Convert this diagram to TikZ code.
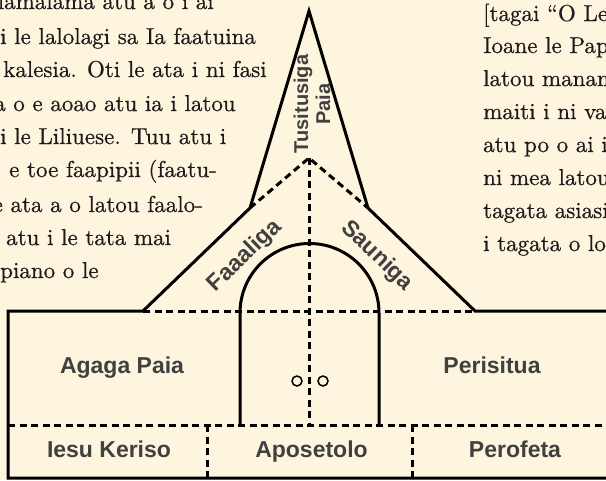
\documentclass[tikz,border=0pt]{standalone}
\usepackage{fontspec}
\setsansfont{Liberation Sans}
\newfontfamily\bodyfont{lmroman10-regular.otf}[FakeBold=0.6]
\usepackage{tikz}
\usetikzlibrary{positioning}
\definecolor{paper}{RGB}{253,245,221}
\definecolor{ink}{RGB}{30,26,27}
\definecolor{labelgray}{RGB}{64,64,64}
\tikzset{
    wall/.style={draw=black, line width=3pt, line join=miter},
    divider/.style={draw=black, line width=3pt, dash pattern=on 7pt off 4.5pt},
    room/.style={font=\sffamily\bfseries\fontsize{23}{25}\selectfont, text=labelgray, inner sep=0pt},
    body/.style={font=\bodyfont\fontsize{23}{33}\selectfont, text=ink, anchor=base west, inner sep=0pt},
    knob/.style={circle, draw, line width=1.5pt, minimum size=10pt, inner sep=0pt}
}

\begin{document}
\begin{tikzpicture}[x=1pt, y=-1pt]
    \useasboundingbox (0,0) rectangle (606,480);
    \fill[paper] (0,0) rectangle (606,480);
    \clip (0,0) rectangle (606,480);

    % text beside the picture
    \node[body] (l1) at (-2.4,9) {lamalama atu a o i ai};
    \node[body] (l2) at (0,44) {i le lalolagi sa Ia faatuina};
    \node[body] (l3) at (3,77) {kalesia. Oti le ata i ni fasi};
    \node[body] (l4) at (-6,111) {a o e aoao atu ia i latou};
    \node[body] (l5) at (0,144) {i le Liliuese. Tuu atu i};
    \node[body] (l6) at (9,177) {e toe faapipii (faatu-};
    \node[body] (l7) at (-7.5,212) {e ata a o latou faalo-};
    \node[body] (l8) at (6,245) {atu i le tata mai};
    \node[body] (l9) at (0,278) {piano o le};

    \node[body] (r1) at (483,21) {[tagai “O Le};
    \node[body] (r2) at (483,53) {Ioane le Pap};
    \node[body] (r3) at (483,86) {latou manam};
    \node[body] (r4) at (483,119) {maiti i ni va};
    \node[body] (r5) at (483,152) {atu po o ai i};
    \node[body] (r6) at (483,185) {ni mea latou};
    \node[body] (r7) at (483,218) {tagata asiasi};
    \node[body] (r8) at (483,251) {i tagata o lo};

    % corners of the building
    \coordinate (eaveL) at (143,311);
    \coordinate (eaveR) at (475,311);
    \coordinate (spireL) at (250,208);
    \coordinate (spireR) at (368,208);
    \coordinate (apex) at (309,11);
    \coordinate (cross) at (309,158);

    % walls
    \draw[wall] (612,311) -- (eaveR) -- (spireR) -- (apex) -- (spireL) -- (eaveL)
        -- (8,311) -- (8,478) -- (612,478);
    \draw[wall] (240,425) -- (240,313) arc[start angle=180, end angle=360, radius=69.5]
        -- (379,425);

    % dashed lines
    \draw[divider] (eaveL) -- (eaveR);
    \draw[divider] (spireL) -- (cross) -- (spireR);
    \draw[divider] (cross) -- (309,425);
    \draw[divider] (8,425) -- (612,425);
    \draw[divider] (207,425) -- (207,478);
    \draw[divider] (412,425) -- (412,478);

    % door
    \node[knob] (knobL) at (297,381) {};
    \node[knob] (knobR) at (323,381) {};

    % labels
    \node[room, rotate=90, align=center, font=\sffamily\bfseries\fontsize{20}{22}\selectfont] (tusi) at (312,104) {Tusitusiga\\Paia};
    \node[room, rotate=44] (faaaliga) at (245,256) {Faaaliga};
    \node[room, rotate=-44] (sauniga) at (377,256) {Sauniga};
    \node[room, anchor=base] (agaga) at (122,373) {Agaga Paia};
    \node[room, anchor=base] (perisitua) at (492,373) {Perisitua};
    \node[room, anchor=base] (iesu) at (109,457) {Iesu Keriso};
    \node[room, anchor=base] (aposetolo) at (311.5,457) {Aposetolo};
    \node[room, anchor=base] (perofeta) at (515,457) {Perofeta};
\end{tikzpicture}
\end{document}
